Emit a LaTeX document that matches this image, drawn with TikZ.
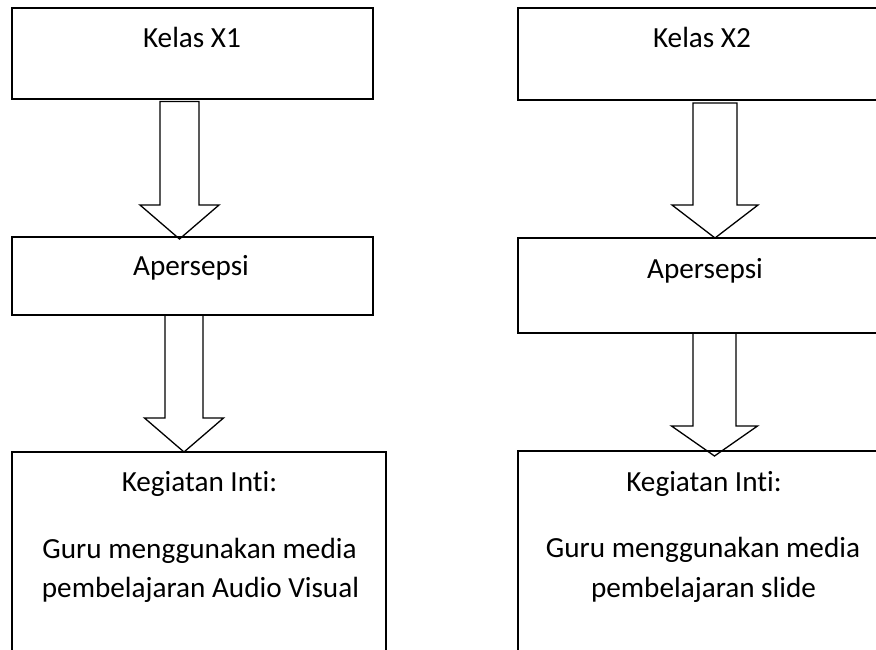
\documentclass[tikz,border=0pt]{standalone}
\usepackage{fontspec}
\setmainfont[Ligatures={NoCommon}]{Carlito}
\usetikzlibrary{calc}
\tikzset{
  boxnode/.style={draw=black, line width=1.7pt, rectangle, inner sep=0pt, outer sep=0pt, anchor=north west},
  txt/.style={inner sep=0pt, anchor=base, font=\fontsize{29.2}{35}\selectfont},
  blockarr/.style={draw=black, line width=1.3pt, line join=miter},
}
% #1 x coordinate name, #2 from node, #3 to node, #4 shaft half width,
% #5 head half width, #6 head length, #7 top offset, #8 tip overshoot
\newcommand\mkblockarrow[8]{%
  \draw[blockarr] let \p1=(#1 |- #2.south), \p2=(#1 |- #3.north) in
    (\x1-#4pt,\y1-#7pt) -- (\x1-#4pt,\y2-#8pt+#6pt) -- (\x1-#5pt,\y2-#8pt+#6pt)
    -- (\x1,\y2-#8pt) -- (\x1+#5pt,\y2-#8pt+#6pt) -- (\x1+#4pt,\y2-#8pt+#6pt)
    -- (\x1+#4pt,\y1-#7pt) -- cycle;}
\begin{document}
\begin{tikzpicture}[x=1pt,y=-1pt]
\useasboundingbox (0,0) rectangle (876,649);
\clip (0,0) rectangle (876,649);
\fill[white] (0,0) rectangle (876,649);
% left column boxes
\node[boxnode, minimum width=361pt, minimum height=91pt] (L1) at (12,8) {};
\node[boxnode, minimum width=361pt, minimum height=78pt] (L2) at (12,237) {};
\node[boxnode, minimum width=374pt, minimum height=300pt] (L3) at (12,452) {};
% right column boxes
\node[boxnode, minimum width=370pt, minimum height=92pt] (R1) at (518,8) {};
\node[boxnode, minimum width=370pt, minimum height=95pt] (R2) at (518,238) {};
\node[boxnode, minimum width=370pt, minimum height=300pt] (R3) at (518,451) {};
% texts
\node[txt] (tL1) at (192,47) {Kelas X1};
\node[txt] (tL2) at (191,275) {Apersepsi};
\node[txt] (tL3a) at (199.5,491.5) {Kegiatan Inti:};
\node[txt] (tL3b) at (199.5,558.5) {Guru menggunakan media};
\node[txt] (tL3c) at (200.5,597.5) {pembelajaran Audio Visual};
\node[txt] (tR1) at (702,47.5) {Kelas X2};
\node[txt] (tR2) at (705,278) {Apersepsi};
\node[txt] (tR3a) at (704,491) {Kegiatan Inti:};
\node[txt] (tR3b) at (703,557.5) {Guru menggunakan media};
\node[txt] (tR3c) at (703.5,597) {pembelajaran slide};
% arrow axes
\coordinate (xla) at (179.5,0);
\coordinate (xlb) at (184,0);
\coordinate (xra) at (715,0);
\coordinate (xrb) at (714.5,0);
% block arrows
\mkblockarrow{xla}{L1}{L2}{19.5}{39.5}{34}{2.5}{2}
\mkblockarrow{xlb}{L2}{L3}{19}{39.5}{34}{0}{0}
\mkblockarrow{xra}{R1}{R2}{22}{43}{33}{3}{0}
\mkblockarrow{xrb}{R2}{R3}{21.5}{43}{30}{0}{5}
\end{tikzpicture}
\end{document}
